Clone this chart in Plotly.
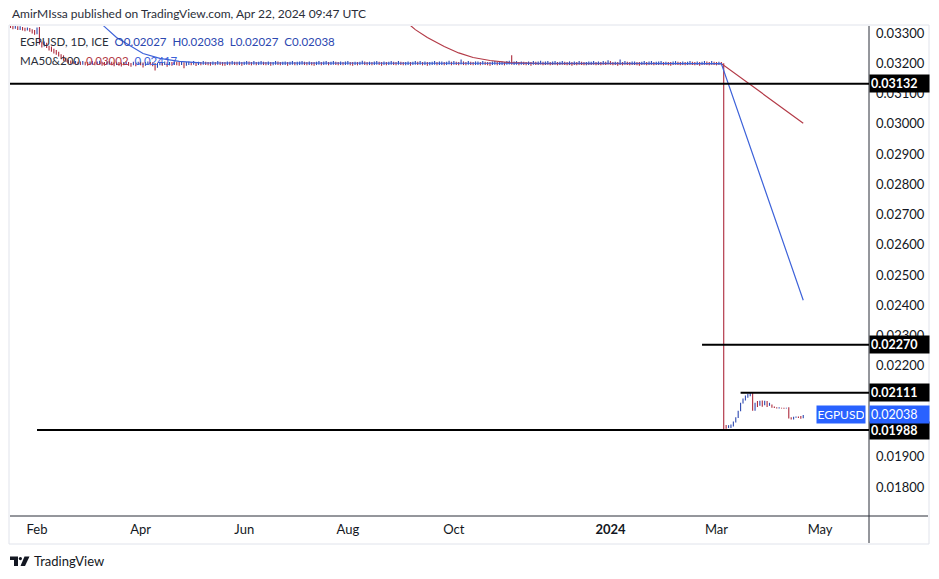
import plotly.graph_objects as go
import pandas as pd

# ---------------- data (prices in 1e-5 units, 10 trading days per row) ----------------
start_date = "2023-01-16"
scale = 1e-5

closes = [
    3325, 3322, 3318, 3320, 3316,  3318, 3314, 3312, 3315, 3310,
    3306, 3300, 3312, 3268, 3262,  3266, 3256, 3250, 3246, 3240,
    3236, 3228, 3222, 3214, 3210,  3206, 3204, 3202, 3203, 3200,
    3199, 3201, 3200, 3198, 3200,  3201, 3199, 3200, 3202, 3199,
    3198, 3200, 3201, 3199, 3197,  3200, 3198, 3196, 3199, 3200,
    3198, 3195, 3199, 3197, 3200,  3199, 3196, 3198, 3200, 3199,
    3197, 3190, 3196, 3199, 3198,  3200, 3197, 3199, 3198, 3200,
    3199, 3198, 3200, 3194, 3199,  3200, 3199, 3201, 3198, 3200,
    3199, 3201, 3200, 3199, 3198,  3200, 3199, 3201, 3200, 3199,
    3198, 3200, 3199, 3201, 3200,  3199, 3200, 3198, 3200, 3201,
    3200, 3199, 3201, 3199, 3200,  3201, 3200, 3199, 3200, 3198,
    3199, 3201, 3200, 3199, 3200,  3200, 3198, 3200, 3201, 3199,
    3199, 3200, 3201, 3200, 3199,  3200, 3199, 3198, 3200, 3201,
    3199, 3200, 3201, 3199, 3200,  3201, 3200, 3199, 3200, 3199,
    3200, 3201, 3199, 3198, 3200,  3199, 3200, 3202, 3200, 3199,
    3200, 3199, 3200, 3201, 3200,  3198, 3200, 3199, 3200, 3201,
    3200, 3199, 3201, 3200, 3199,  3199, 3200, 3198, 3200, 3201,
    3200, 3201, 3199, 3200, 3198,  3199, 3200, 3201, 3199, 3200,
    3200, 3199, 3200, 3202, 3199,  3201, 3200, 3199, 3203, 3200,
    3199, 3201, 3200, 3199, 3200,  3200, 3199, 3201, 3200, 3199,
    3198, 3200, 3201, 3199, 3200,  3200, 3199, 3201, 3203, 3199,
    3200, 3201, 3199, 3201, 3200,  3199, 3200, 3198, 3201, 3200,
    3200, 3202, 3199, 3200, 3201,  3199, 3200, 3201, 3199, 3200,
    3201, 3200, 3199, 3200, 3198,  3200, 3199, 3201, 3200, 3199,
    3199, 3200, 3200, 3201, 3199,  3200, 3199, 3201, 3200, 3202,
    3201, 3199, 3200, 3198, 3200,  3199, 3201, 3200, 3199, 3200,
    3200, 3199, 3198, 3200, 3201,  3199, 3200, 3201, 3199, 3200,
    3200, 3201, 3199, 3200, 3199,  3198, 3200, 3201, 3200, 3199,
    3200, 3199, 3200, 3201, 3200,  3199, 3200, 3198, 3200, 3201,
    3200, 3199, 3201, 3200, 3199,  3200, 3199, 2000, 1998, 2000,
    2005, 2015, 2028, 2050, 2076,  2090, 2100, 2106, 2108, 2055,
    2076, 2072, 2082, 2078, 2082,  2068, 2072, 2065, 2063, 2061,
    2062, 2061, 2060, 2061, 2028,  2026, 2030, 2031, 2030, 2027,
    2038,
]

highs = [
    3330, 3328, 3324, 3325, 3322,  3322, 3320, 3317, 3318, 3316,
    3312, 3310, 3318, 3320, 3272,  3272, 3268, 3258, 3255, 3248,
    3244, 3238, 3230, 3226, 3218,  3212, 3209, 3206, 3207, 3205,
    3206, 3207, 3205, 3204, 3206,  3207, 3205, 3206, 3208, 3205,
    3204, 3206, 3207, 3205, 3203,  3205, 3204, 3202, 3204, 3206,
    3204, 3201, 3205, 3202, 3205,  3205, 3202, 3204, 3206, 3204,
    3203, 3201, 3201, 3205, 3204,  3206, 3203, 3204, 3204, 3205,
    3205, 3204, 3206, 3203, 3204,  3206, 3204, 3207, 3204, 3205,
    3204, 3207, 3205, 3204, 3204,  3206, 3204, 3207, 3205, 3204,
    3204, 3206, 3205, 3207, 3205,  3205, 3206, 3204, 3205, 3207,
    3206, 3204, 3207, 3204, 3205,  3207, 3205, 3204, 3206, 3204,
    3204, 3207, 3206, 3204, 3205,  3206, 3204, 3205, 3207, 3204,
    3205, 3206, 3207, 3205, 3204,  3206, 3204, 3204, 3205, 3207,
    3204, 3206, 3207, 3204, 3205,  3207, 3205, 3204, 3206, 3204,
    3206, 3207, 3204, 3204, 3205,  3204, 3205, 3208, 3206, 3204,
    3205, 3204, 3206, 3207, 3205,  3204, 3206, 3204, 3205, 3207,
    3205, 3204, 3207, 3205, 3204,  3204, 3206, 3204, 3205, 3207,
    3205, 3207, 3204, 3206, 3204,  3204, 3205, 3207, 3204, 3206,
    3206, 3204, 3205, 3208, 3205,  3207, 3205, 3204, 3212, 3206,
    3204, 3207, 3205, 3204, 3206,  3206, 3204, 3207, 3205, 3204,
    3204, 3206, 3207, 3204, 3205,  3206, 3204, 3207, 3208, 3226,
    3206, 3207, 3204, 3206, 3205,  3204, 3206, 3204, 3207, 3205,
    3206, 3208, 3205, 3206, 3207,  3204, 3206, 3207, 3204, 3205,
    3207, 3205, 3204, 3206, 3204,  3206, 3204, 3207, 3205, 3204,
    3204, 3206, 3205, 3207, 3204,  3206, 3204, 3207, 3205, 3210,
    3207, 3204, 3205, 3204, 3212,  3204, 3207, 3205, 3204, 3206,
    3206, 3204, 3204, 3205, 3207,  3204, 3206, 3207, 3204, 3205,
    3206, 3207, 3204, 3205, 3204,  3204, 3206, 3207, 3205, 3204,
    3206, 3204, 3205, 3207, 3205,  3204, 3206, 3204, 3205, 3207,
    3206, 3204, 3207, 3205, 3204,  3205, 3204, 3200, 2005, 2004,
    2006, 2016, 2030, 2052, 2078,  2092, 2102, 2108, 2111, 2110,
    2078, 2084, 2085, 2086, 2085,  2084, 2078, 2070, 2066, 2063,
    2063, 2062, 2062, 2062, 2063,  2030, 2032, 2033, 2033, 2034,
    2038,
]

lows = [
    3318, 3316, 3312, 3314, 3310,  3310, 3308, 3306, 3308, 3304,
    3298, 3294, 3296, 3262, 3252,  3255, 3250, 3242, 3238, 3232,
    3228, 3222, 3215, 3208, 3204,  3200, 3198, 3197, 3198, 3196,
    3194, 3195, 3193, 3192, 3194,  3195, 3193, 3194, 3196, 3192,
    3192, 3194, 3195, 3193, 3190,  3194, 3192, 3189, 3193, 3194,
    3192, 3188, 3193, 3190, 3194,  3193, 3186, 3192, 3194, 3193,
    3190, 3176, 3185, 3193, 3192,  3194, 3188, 3193, 3192, 3194,
    3193, 3192, 3194, 3183, 3192,  3194, 3193, 3195, 3191, 3194,
    3193, 3195, 3194, 3193, 3192,  3194, 3193, 3195, 3194, 3192,
    3192, 3194, 3193, 3195, 3194,  3193, 3194, 3192, 3194, 3195,
    3194, 3193, 3195, 3193, 3194,  3195, 3194, 3193, 3194, 3192,
    3193, 3195, 3194, 3193, 3194,  3194, 3192, 3194, 3195, 3193,
    3193, 3194, 3195, 3194, 3193,  3194, 3193, 3192, 3194, 3195,
    3193, 3194, 3195, 3193, 3194,  3195, 3194, 3193, 3194, 3193,
    3194, 3195, 3193, 3192, 3194,  3193, 3194, 3196, 3194, 3193,
    3194, 3193, 3194, 3195, 3194,  3192, 3194, 3193, 3194, 3195,
    3194, 3193, 3195, 3194, 3193,  3193, 3194, 3192, 3194, 3195,
    3194, 3195, 3193, 3194, 3192,  3193, 3194, 3195, 3193, 3194,
    3194, 3193, 3194, 3196, 3193,  3195, 3194, 3193, 3196, 3194,
    3193, 3195, 3194, 3193, 3194,  3194, 3193, 3195, 3194, 3193,
    3192, 3194, 3195, 3193, 3194,  3194, 3193, 3195, 3196, 3195,
    3194, 3195, 3193, 3195, 3194,  3193, 3194, 3192, 3195, 3194,
    3194, 3196, 3193, 3194, 3195,  3193, 3194, 3195, 3193, 3194,
    3195, 3194, 3193, 3194, 3192,  3194, 3193, 3195, 3194, 3193,
    3193, 3194, 3194, 3195, 3193,  3194, 3193, 3195, 3194, 3196,
    3195, 3193, 3194, 3192, 3194,  3193, 3195, 3194, 3193, 3194,
    3194, 3193, 3192, 3194, 3195,  3193, 3194, 3195, 3193, 3194,
    3194, 3195, 3193, 3194, 3193,  3192, 3194, 3195, 3194, 3193,
    3194, 3193, 3194, 3195, 3194,  3193, 3194, 3192, 3194, 3195,
    3194, 3193, 3195, 3194, 3193,  3194, 3193, 1988, 1992, 1995,
    1995, 2000, 2013, 2028, 2050,  2076, 2086, 2095, 2100, 2052,
    2052, 2064, 2068, 2065, 2070,  2064, 2068, 2062, 2061, 2059,
    2059, 2059, 2058, 2059, 2026,  2023, 2023, 2029, 2028, 2025,
    2027,
]

# moving averages
ma50_dates = ["2023-03-08", "2023-03-13", "2023-03-20", "2023-03-28", "2023-04-04",
              "2023-04-13", "2023-04-25", "2023-05-08", "2023-07-03", "2023-10-02",
              "2024-01-02", "2024-03-05", "2024-04-22"]
ma50_vals = [0.03345, 0.03321, 0.03285, 0.03255, 0.03232,
             0.03216, 0.03206, 0.03201, 0.03200, 0.03200,
             0.03200, 0.03199, 0.02417]

ma200_dates = ["2023-09-01", "2023-09-08", "2023-09-15", "2023-09-26", "2023-10-04",
               "2023-10-12", "2023-10-23", "2023-11-02", "2023-11-21", "2024-01-15",
               "2024-03-05", "2024-04-22"]
ma200_vals = [0.03345, 0.03311, 0.03285, 0.03255, 0.03234,
              0.03219, 0.03209, 0.03202, 0.03199, 0.03199,
              0.03199, 0.03002]

# horizontal levels drawn by the author
level_values = [0.03132, 0.02270, 0.02111, 0.01988]
level_starts = [None, "2024-02-22", "2024-03-15", "2023-02-01"]

last_price = 0.02038
legend_ohlc = ["O0.02027", "H0.02038", "L0.02027", "C0.02038"]
legend_ma = ["0.03002", "0.02417"]

x_range = ["2023-01-16 19:00", "2024-05-29 07:00"]
y_range = [0.01704, 0.03323]
y_ticks = [0.018, 0.019, 0.020, 0.021, 0.022, 0.023, 0.024, 0.025, 0.026, 0.027,
           0.028, 0.029, 0.030, 0.031, 0.032, 0.033]
x_tick_dates = ["2023-02-01", "2023-04-03", "2023-06-01", "2023-08-01", "2023-10-02",
                "2024-01-01", "2024-03-01", "2024-05-01"]
x_tick_text = ["Feb", "Apr", "Jun", "Aug", "Oct", "<b>2024</b>", "Mar", "May"]

# ---------------- build ----------------
UP = "#2b47b0"
DOWN = "#ad2a3c"
MA50_C = "#3d62d9"
MA200_C = "#b33a47"
TXT = "#131722"
FONT = "Lato"

dates = pd.bdate_range(start_date, periods=len(closes))
c = [v * scale for v in closes]
o = [c[0]] + c[:-1]
h = [max(hv * scale, oo, cc) for hv, oo, cc in zip(highs, o, c)]
l = [min(lv * scale, oo, cc) for lv, oo, cc in zip(lows, o, c)]

# candles drawn as thin high-low ticks (bodies are ~1px at this density)
up_x, up_y, dn_x, dn_y = [], [], [], []
for d, oo, hh, ll, cc in zip(dates, o, h, l, c):
    if cc >= oo:
        up_x += [d, d, None]
        up_y += [ll, hh, None]
    else:
        dn_x += [d, d, None]
        dn_y += [ll, hh, None]

fig = go.Figure()
fig.add_trace(go.Scatter(x=up_x, y=up_y, mode="lines", line=dict(color=UP, width=1.1),
                         showlegend=False, hoverinfo="skip", connectgaps=False))
fig.add_trace(go.Scatter(x=dn_x, y=dn_y, mode="lines", line=dict(color=DOWN, width=1.1),
                         showlegend=False, hoverinfo="skip", connectgaps=False))
fig.add_trace(go.Scatter(x=pd.to_datetime(ma200_dates), y=ma200_vals, mode="lines",
                         line=dict(color=MA200_C, width=1.2), showlegend=False,
                         hoverinfo="skip"))
fig.add_trace(go.Scatter(x=pd.to_datetime(ma50_dates), y=ma50_vals, mode="lines",
                         line=dict(color=MA50_C, width=1.2), showlegend=False,
                         hoverinfo="skip"))

# The page body has an 8px margin; the figure is sized so that it lands on the
# reference's pixel grid (reference coords are used below).
OFF = 8
W, H = 939 - OFF, 579 - 2 * OFF
ML, MR, MT, MB = 10 - OFF, 70, 26 - OFF, 579 - 516 - OFF
PW, PH = W - ML - MR, H - MT - MB


def px(x):
    return (x - 10) / PW


def py(y):
    return (516 - y) / PH


shapes = []
shapes.append(dict(type="rect", xref="paper", yref="paper", x0=px(9), x1=px(929),
                   y0=py(544), y1=py(25), line=dict(color="#e0e3eb", width=1),
                   layer="below"))
shapes.append(dict(type="line", xref="paper", yref="paper", x0=0, x1=px(928),
                   y0=0, y1=0, line=dict(color="#2a2e39", width=1)))
shapes.append(dict(type="line", xref="paper", yref="paper", x0=1, x1=1,
                   y0=py(543), y1=1, line=dict(color="#2a2e39", width=1)))
for val, st in zip(level_values, level_starts):
    shapes.append(dict(type="line", xref="x", yref="y",
                       x0=st if st else x_range[0], x1=x_range[1], y0=val, y1=val,
                       line=dict(color="#000000", width=2)))
# TradingView logo
shapes.append(dict(type="path", xref="paper", yref="paper", fillcolor=TXT,
                   line=dict(width=0),
                   path=f"M{px(10)},{py(556.5)} L{px(18)},{py(556.5)} L{px(18)},{py(566)} "
                        f"L{px(14)},{py(566)} L{px(14)},{py(560)} L{px(10)},{py(560)} Z"))
shapes.append(dict(type="circle", xref="paper", yref="paper", fillcolor=TXT,
                   line=dict(width=0), x0=px(18.8), x1=px(22), y0=py(560.2), y1=py(557)))
shapes.append(dict(type="path", xref="paper", yref="paper", fillcolor=TXT,
                   line=dict(width=0),
                   path=f"M{px(24.5)},{py(556.5)} L{px(29.5)},{py(556.5)} L{px(25)},{py(566)} "
                        f"L{px(20.5)},{py(566)} Z"))

ann = []
ann.append(dict(xref="paper", yref="paper", x=px(10), y=py(14), xanchor="left",
                yanchor="middle", showarrow=False,
                text="AmirMIssa published on TradingView.com, Apr 22, 2024 09:47 UTC",
                font=dict(family=FONT, size=12, color="#2a2e39")))
sp = "\u00a0 "
ann.append(dict(xref="paper", yref="paper", x=px(18), y=py(42), xanchor="left",
                yanchor="middle", showarrow=False,
                text="EGPUSD, 1D, ICE" + sp + f"<span style='color:{UP}'>" + sp.join(legend_ohlc) + "</span>",
                font=dict(family=FONT, size=11.5, color="#2a2e39")))
ann.append(dict(xref="paper", yref="paper", x=px(18), y=py(60), xanchor="left",
                yanchor="middle", showarrow=False,
                text="MA50&amp;200" + sp + f"<span style='color:{MA200_C}'>{legend_ma[0]}</span>" + sp
                     + f"<span style='color:{MA50_C}'>{legend_ma[1]}</span>",
                font=dict(family=FONT, size=11.5, color="#2a2e39")))
for val in level_values:
    ann.append(dict(xref="paper", yref="y", x=1, y=val, xanchor="left", yanchor="middle",
                    showarrow=False, text=f"<b>{val:.5f}</b>", bgcolor="#000000",
                    width=57, height=15, align="left", borderpad=1,
                    font=dict(family=FONT, size=12.5, color="#ffffff")))
ann.append(dict(xref="paper", yref="y", x=1, y=last_price, xanchor="left", yanchor="middle",
                showarrow=False, text=f"{last_price:.5f}", bgcolor="#2962ff",
                width=57, height=15, align="left", borderpad=1,
                font=dict(family=FONT, size=12.5, color="#ffffff")))
ann.append(dict(xref="paper", yref="y", x=1, y=last_price, xanchor="right", yanchor="middle",
                xshift=-3, showarrow=False, text="EGPUSD", bgcolor="#2962ff",
                width=46, height=15, borderpad=1,
                font=dict(family=FONT, size=12, color="#ffffff")))
ann.append(dict(xref="paper", yref="paper", x=px(32), y=py(561), xanchor="left",
                yanchor="middle", showarrow=False, text="TradingView",
                font=dict(family=FONT, size=13, color=TXT)))

fig.update_layout(
    width=W, height=H,
    margin=dict(l=ML, r=MR, t=MT, b=MB, pad=0),
    paper_bgcolor="#ffffff", plot_bgcolor="#ffffff",
    showlegend=False,
    shapes=shapes, annotations=ann,
    font=dict(family=FONT, size=12, color=TXT),
    xaxis=dict(type="date", range=x_range, rangebreaks=[dict(bounds=["sat", "mon"])],
               showgrid=False, zeroline=False,
               showline=False, ticks="", tickvals=pd.to_datetime(x_tick_dates),
               ticktext=x_tick_text, tickfont=dict(family=FONT, size=13, color=TXT),
               ticklabelstandoff=4),
    yaxis=dict(side="right", range=y_range, showgrid=False, zeroline=False,
               showline=False, ticks="", tickvals=y_ticks, tickformat=".5f",
               tickfont=dict(family=FONT, size=13, color=TXT), ticklabelstandoff=6),
)

fig.write_html("out.html")
